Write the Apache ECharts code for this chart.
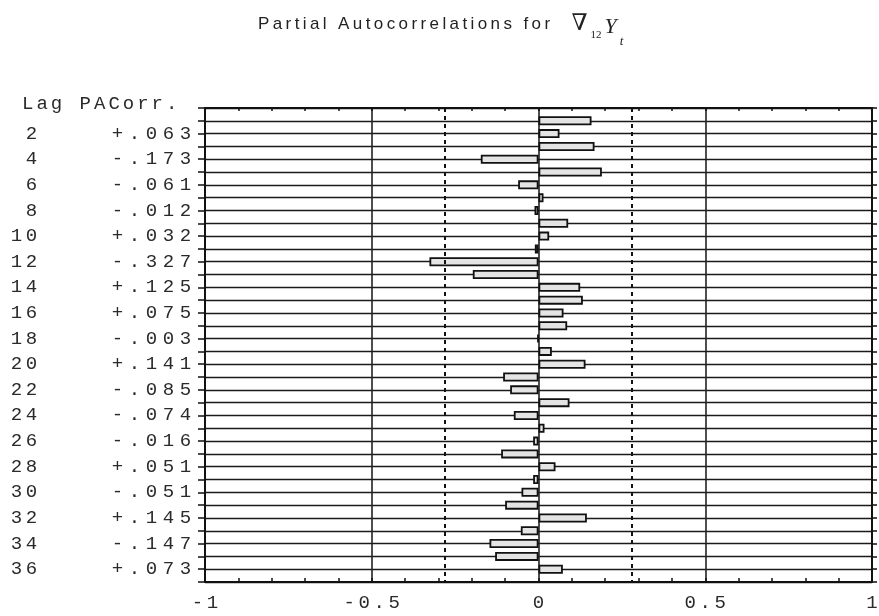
<!DOCTYPE html>
<html><head><meta charset="utf-8">
<script src="https://cdn.jsdelivr.net/npm/echarts@6/dist/echarts.min.js"></script>
<style>html,body{margin:0;padding:0;background:#fff}#c{width:879px;height:616px}</style>
</head><body><div id="c"></div>
<script>
// ---- data ----
const lags = [1,2,3,4,5,6,7,8,9,10,11,12,13,14,15,16,17,18,19,20,21,22,23,24,25,26,27,28,29,30,31,32,33,34,35,36];
const pacf = [0.159,0.063,0.168,-0.173,0.190,-0.061,0.015,-0.012,0.089,0.032,-0.011,-0.327,-0.197,0.125,0.133,0.075,0.086,-0.003,0.040,0.141,-0.106,-0.085,0.093,-0.074,0.018,-0.016,-0.112,0.051,-0.016,-0.051,-0.100,0.145,-0.053,-0.147,-0.130,0.073];
const bounds = [-0.28, 0.28];
const xTickValues = [-1, -0.5, 0, 0.5, 1];
const xTickLabels = ['-1', '-0.5', '0', '0.5', '1'];
const titleText = 'Partial Autocorrelations for';
const headerText = 'Lag PACorr.';

// ---- helpers ----
function cells(str, style) {
  return str.split('').map(ch => '{' + style + '|' + ch + '}').join('');
}
const mono = 'Liberation Mono';
const txtColor = '#2a2a2a';

// category axis padded with empty rows at both ends (lag 0 and lag 37)
const cats = ['0'].concat(lags.map(String)).concat(['37']);
const barData = [null].concat(pacf).concat([null]);

function fmtVal(v) {
  return (v >= 0 ? '+' : '-') + Math.abs(v).toFixed(3).slice(1);
}

// title per-character spacing
const ctx = document.createElement('canvas').getContext('2d');
const tFont = 17;
ctx.font = tFont + 'px "Liberation Sans"';
const titleRich = {};
let titleStr = '';
titleText.split('').forEach((ch, i) => {
  const w = ctx.measureText(ch).width + 3.4;
  titleRich['c' + i] = {width: w, align: 'left', fontSize: tFont, fontWeight: 'normal', fontFamily: 'Liberation Sans', color: '#222'};
  titleStr += '{c' + i + '|' + ch + '}';
});
titleRich.gap = {width: 18, fontSize: tFont, fontWeight: 'normal'};
titleRich.nab = {fontFamily: 'DejaVu Serif', fontWeight: 'normal', fontSize: 23, color: '#222'};
titleRich.s12 = {fontFamily: 'Liberation Serif', fontWeight: 'normal', fontSize: 11, color: '#222', padding: [22, 1, 0, 3]};
titleRich.yy = {fontFamily: 'Liberation Serif', fontWeight: 'normal', fontStyle: 'italic', fontSize: 22, color: '#222', padding: [6, 0, 0, 2]};
titleRich.tt = {fontFamily: 'Liberation Serif', fontWeight: 'normal', fontStyle: 'italic', fontSize: 13, color: '#222', padding: [34, 0, 0, 3]};
titleStr += '{gap| }{nab|∇}{s12|12}{yy|Y}{tt|t}';

const chart = echarts.init(document.getElementById('c'));
const option = {
  animation: false,
  backgroundColor: '#fff',
  title: {
    text: titleStr,
    left: 258, top: 1, padding: 0,
    textStyle: {fontWeight: 'normal', rich: titleRich}
  },
  graphic: [{
    type: 'text', left: 22, top: 94, silent: true,
    style: {
      text: cells(headerText, 'h'),
      rich: {h: {width: 14.4, align: 'center', fontFamily: mono, fontSize: 19, fill: txtColor, color: txtColor}}
    }
  }],
  grid: {left: 205, right: 7, top: 108, bottom: 34, containLabel: false, outerBoundsMode: 'none'},
  xAxis: [{
    type: 'value', position: 'bottom', min: -1, max: 1, interval: 0.5,
    axisLine: {show: true, lineStyle: {color: '#111', width: 2}},
    axisTick: {show: true, inside: true, length: 4, lineStyle: {color: '#111', width: 1.5}},
    minorTick: {show: true, splitNumber: 5, length: 4, lineStyle: {color: '#111', width: 1.5}},
    splitLine: {show: true, showMinLine: false, showMaxLine: false, lineStyle: {color: '#222', width: 1.6}},
    axisLabel: {
      margin: 11,
      formatter: v => {
        const i = xTickValues.findIndex(t => Math.abs(t - v) < 1e-9);
        return i < 0 ? '' : cells(xTickLabels[i], 'x');
      },
      rich: {x: {width: 15, align: 'center', fontFamily: mono, fontSize: 19, color: txtColor}}
    }
  }, {
    type: 'value', position: 'top', min: -1, max: 1, interval: 0.5,
    axisLine: {show: true, lineStyle: {color: '#111', width: 2}},
    axisTick: {show: true, inside: true, length: 3, lineStyle: {color: '#111', width: 1.5}},
    minorTick: {show: true, splitNumber: 5, length: 3, lineStyle: {color: '#111', width: 1.5}},
    splitLine: {show: false},
    axisLabel: {show: false}
  }],
  yAxis: [{
    type: 'category', data: cats, inverse: true, boundaryGap: false, position: 'left',
    axisLine: {show: true, onZero: false, lineStyle: {color: '#111', width: 2}},
    axisTick: {show: true, interval: 0, length: 7, lineStyle: {color: '#111', width: 1.5}},
    splitLine: {show: true, interval: 0, lineStyle: {color: '#1a1a1a', width: 1.4}},
    axisLabel: {
      interval: 0, margin: 11,
      formatter: (value) => {
        const lag = +value;
        if (lag < 1 || lag > 36 || lag % 2) return '';
        const ls = String(lag);
        const lagPart = (ls.length < 2 ? '{lg| }' : '') + cells(ls, 'lg');
        return lagPart + '{gap| }' + cells(fmtVal(pacf[lag - 1]), 'vc');
      },
      rich: {
        lg: {width: 15, align: 'center', fontFamily: mono, fontSize: 19, color: txtColor},
        gap: {width: 70, fontSize: 19},
        vc: {width: 17, align: 'center', fontFamily: mono, fontSize: 19, color: txtColor}
      }
    }
  }, {
    type: 'category', data: cats, inverse: true, boundaryGap: false, position: 'right',
    axisLine: {show: true, onZero: false, lineStyle: {color: '#111', width: 2}},
    axisTick: {show: true, interval: 0, length: 5, lineStyle: {color: '#111', width: 1.5}},
    splitLine: {show: false},
    axisLabel: {show: false}
  }],
  series: [{
    type: 'bar', xAxisIndex: 0, yAxisIndex: 0,
    data: barData, barWidth: 9, clip: false,
    itemStyle: {color: '#e4e4e4', borderColor: '#111', borderWidth: 1.8},
    markLine: {
      silent: true, symbol: 'none', label: {show: false},
      lineStyle: {type: [4, 4], color: '#111', width: 2},
      data: bounds.map(b => ({xAxis: b}))
    }
  }]
};
chart.setOption(option);
</script>
</body></html>
